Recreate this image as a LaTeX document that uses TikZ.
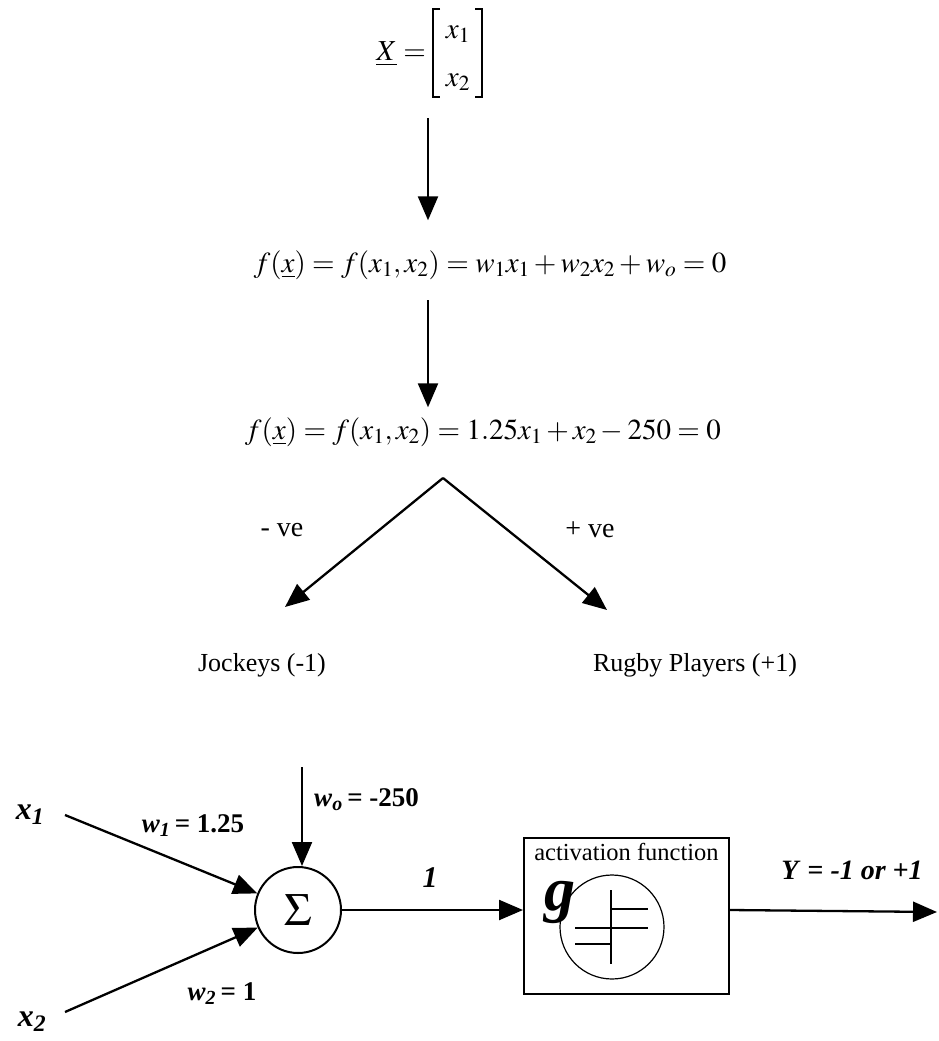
\documentclass[tikz,border=0pt]{standalone}
\usepackage{amsmath}
\usepackage{mathptmx}
\usepackage[no-math]{fontspec}
\setmainfont{Liberation Serif}
\usetikzlibrary{arrows.meta,calc}
\newcommand{\bitx}[1]{\textbf{\textit{#1}}}
\tikzset{
  txt/.style={inner sep=0pt, font=\fontsize{26}{31}\selectfont},
  eqn/.style={inner sep=0pt, font=\fontsize{29}{34}\selectfont},
  blab/.style={inner sep=0pt, font=\fontsize{27}{31}\selectfont},
  arr/.style={line width=2.3pt, -{Triangle[length=24pt,width=20pt]}},
  thinln/.style={line width=1.2pt},
  boldln/.style={line width=2.6pt},
  brk/.style={line width=1.3pt},
}
\begin{document}
\begin{tikzpicture}[x=1pt,y=-1pt]
\useasboundingbox (0,0) rectangle (939,1041);
% top vector
\node[eqn, anchor=east] (lhs) at (426,54) {$\underline{X}=$};
\node[eqn] (v1) at (458,34) {$x_1$};
\node[eqn] (v2) at (458,82) {$x_2$};
\coordinate (bl) at (433,9);
\coordinate (br) at (482,97);
\draw[brk] ($(bl)+(7,0)$) -- (bl) -- (bl |- br) -- ++(7,0);
\draw[brk] ($(br |- bl)+(-7,0)$) -- (br |- bl) -- (br) -- ++(-7,0);
% equations
\node[eqn] (eq2) at (490,265) {$f(\underline{x})=f(x_1,x_2)=w_1x_1+w_2x_2+w_o=0$};
\node[eqn] (eq3) at (483,432) {$f(\underline{x})=f(x_1,x_2)=1.25x_1+x_2-250=0$};
\coordinate (a1s) at (428,118);
\coordinate (a2s) at (428,300);
\draw[arr] (a1s) -- ($(a1s |- eq2.north)+(0,-30)$);
\draw[arr] (a2s) -- ($(a2s |- eq3.north)+(0,-10)$);
% split
\coordinate (apex) at (443,478);
\node[txt] (jock) at (262,665) {Jockeys (-1)};
\node[txt] (rugby) at (695,665) {Rugby Players (+1)};
\coordinate (jt) at (285,607);
\coordinate (rt) at (607,610);
\draw[arr] (apex) -- (jt);
\draw[arr] (apex) -- (rt);
\node[txt, font=\fontsize{28}{32}\selectfont] (neg) at (282,530) {- ve};
\node[txt, font=\fontsize{28}{32}\selectfont] (pos) at (590,530) {+ ve};
% bottom network
\node[draw, circle, line width=2pt, minimum size=86pt, inner sep=0pt] (sig) at (298,910) {\fontsize{46}{50}\selectfont$\Sigma$};
\node[inner sep=0pt, font=\fontsize{32}{36}\selectfont] (x1) at (30,815) {\bitx{x}\textsubscript{\bitx{1}}};
\node[inner sep=0pt, font=\fontsize{32}{36}\selectfont] (x2) at (32,1022) {\bitx{x}\textsubscript{\bitx{2}}};
\coordinate (x1s) at (65,815);
\coordinate (x2s) at (65,1012);
\draw[arr] (x1s) -- (sig);
\draw[arr] (x2s) -- (sig);
\node[blab] (w1) at (193,826) {\bitx{w}\textsubscript{\bitx{1}}\textbf{\,= 1.25}};
\node[blab] (w2) at (222,994) {\bitx{w}\textsubscript{\bitx{2}}\textbf{\,= 1}};
\coordinate (w0s) at (302,767);
\draw[arr] (w0s) -- (w0s |- sig.north);
\node[blab, anchor=west] (w0) at (314,800) {\bitx{w}\textsubscript{\bitx{o}}\textbf{\,= -250}};
% activation box
\node[draw, line width=2pt, minimum width=205pt, minimum height=156pt, inner sep=0pt] (act) at (626.5,916) {};
\node[inner sep=0pt, font=\fontsize{24.5}{28}\selectfont, anchor=north] (actl) at ($(act.north)+(0,6)$) {activation function};
\draw[arr] (sig.east) -- (sig.east -| act.west);
\node[blab, font=\fontsize{30}{34}\selectfont] (one) at (430,878) {\bitx{1}};
\coordinate (outp) at (937,912);
\draw[arr] (act.east |- sig.east) -- (outp);
\node[blab, font=\fontsize{28}{32}\selectfont] (yl) at (852,870) {\bitx{Y}\textbf{ = }\bitx{-1 or +1}};
% inner circle with step
\node[draw, circle, thinln, minimum size=104pt, inner sep=0pt] (gc) at (612,927) {};
\draw[thinln] ($(gc.center)+(-1,-37)$) -- ($(gc.center)+(-1,37)$);
\draw[boldln] ($(gc.center)+(-1,-18)$) -- ($(gc.center)+(-1,17)$);
\draw[boldln] ($(gc.center)+(-1,-18)$) -- ($(gc.center)+(36,-18)$);
\draw[thinln] ($(gc.center)+(-37,1)$) -- ($(gc.center)+(36,1)$);
\draw[boldln] ($(gc.center)+(-37,17)$) -- ($(gc.center)+(-1,17)$);
\node[inner sep=0pt, font=\fontsize{62}{64}\selectfont] (g) at (560,902) {\bitx{g}};
\end{tikzpicture}
\end{document}
